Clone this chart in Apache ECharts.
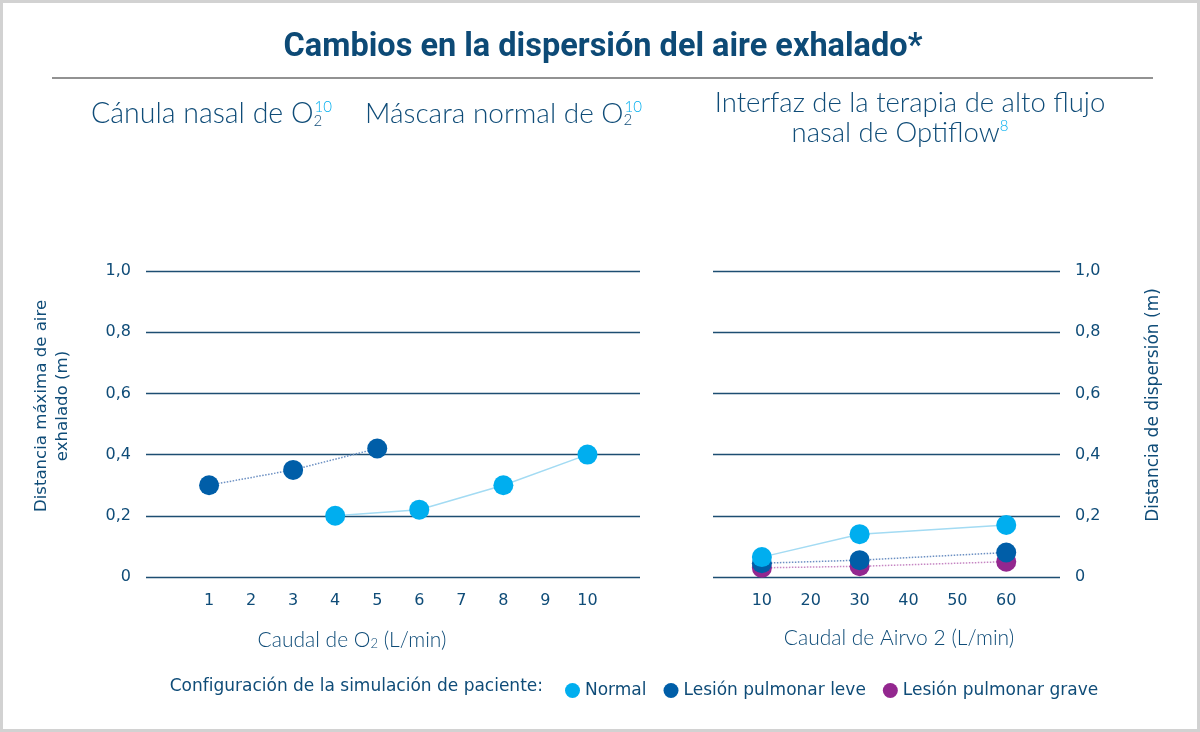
<!DOCTYPE html>
<html lang="es">
<head>
  <meta charset="UTF-8">
  <script src="https://cdn.jsdelivr.net/npm/echarts@6.0.0/dist/echarts.min.js"></script>
  <style>
    body { margin: 0; background: #fff; }
  </style>
</head>
<body>
  <div id="main" style="width: 1200px;height:732px;"></div>
  <script type="text/javascript">
    // colores
    let cNormal = '#00aeef';
    let cLeve = '#005ea8';
    let cGrave = '#93278f';
    let cText = '#0f4c78';
    let cGrid = '#1d4e72';

    // panel izquierdo: cánula nasal / máscara (caudal de O2, L/min)
    let xLeftTicks = [1, 2, 3, 4, 5, 6, 7, 8, 9, 10];
    let leveLeftX = [1, 3, 5];
    let leveLeftY = [0.30, 0.35, 0.42];
    let normalLeftX = [4, 6, 8, 10];
    let normalLeftY = [0.20, 0.22, 0.30, 0.40];

    // panel derecho: Optiflow (caudal de Airvo 2, L/min)
    let xRightTicks = [10, 20, 30, 40, 50, 60];
    let flowRight = [10, 30, 60];
    let normalRight = [0.065, 0.14, 0.17];
    let leveRight = [0.045, 0.055, 0.08];
    let graveRight = [0.03, 0.035, 0.05];

    let legendNames = ['Normal', 'Lesión pulmonar leve', 'Lesión pulmonar grave'];

    function pairs(xs, ys) {
      return xs.map((x, i) => [x, ys[i]]);
    }
    function fmtY(v) {
      return v === 0 ? '0' : v.toFixed(1).replace('.', ',');
    }

    let font = '"DejaVu Sans"';   // textos pequeños (anchos como en el original)
    let light = 'Lato';           // subtítulos y nombres de ejes

    let yAxisBase = {
      type: 'value', min: 0, max: 1, interval: 0.2,
      axisLine: { show: false }, axisTick: { show: false },
      splitLine: { show: true, lineStyle: { color: cGrid, width: 1.3 } },
      axisLabel: { formatter: fmtY, color: cText, fontSize: 16, fontFamily: font, margin: 15 }
    };

    let symbolSize = 20;

    var myChart = echarts.init(document.getElementById('main'), null, { renderer: 'canvas' });
    myChart.setOption({
      animation: false,
      textStyle: { fontFamily: font },
      grid: [
        { left: 146, right: 560, top: 271, bottom: 155 },
        { left: 713, right: 140, top: 271, bottom: 155 }
      ],
      xAxis: [
        {
          gridIndex: 0, type: 'value', min: -0.5, max: 11.25,
          axisLine: { show: false }, axisTick: { show: false }, splitLine: { show: false },
          axisLabel: { customValues: xLeftTicks, color: cText, fontSize: 16, fontFamily: font, margin: 16 }
        },
        {
          gridIndex: 1, type: 'value', min: 0, max: 71,
          axisLine: { show: false }, axisTick: { show: false }, splitLine: { show: false },
          axisLabel: { customValues: xRightTicks, color: cText, fontSize: 16, fontFamily: font, margin: 16 }
        }
      ],
      yAxis: [
        Object.assign({ gridIndex: 0, position: 'left' }, yAxisBase),
        Object.assign({ gridIndex: 1, position: 'right' }, yAxisBase)
      ],
      legend: {
        data: legendNames,
        left: 560, top: 677,
        icon: 'circle', itemWidth: 15, itemHeight: 15, itemGap: 17,
        textStyle: { color: cText, fontSize: 17, fontFamily: font }
      },
      series: [
        {
          name: 'Lesión pulmonar leve', type: 'line', xAxisIndex: 0, yAxisIndex: 0,
          data: pairs(leveLeftX, leveLeftY), symbol: 'circle', symbolSize: symbolSize,
          itemStyle: { color: cLeve },
          lineStyle: { color: '#6b8fc2', width: 1.5, type: 'dotted' }
        },
        {
          name: 'Normal', type: 'line', xAxisIndex: 0, yAxisIndex: 0,
          data: pairs(normalLeftX, normalLeftY), symbol: 'circle', symbolSize: symbolSize,
          itemStyle: { color: cNormal },
          lineStyle: { color: '#a3dbf3', width: 1.5 }
        },
        {
          name: 'Lesión pulmonar grave', type: 'line', xAxisIndex: 1, yAxisIndex: 1,
          data: pairs(flowRight, graveRight), symbol: 'circle', symbolSize: symbolSize,
          itemStyle: { color: cGrave },
          lineStyle: { color: '#c585c2', width: 1.5, type: 'dotted' }
        },
        {
          name: 'Lesión pulmonar leve', type: 'line', xAxisIndex: 1, yAxisIndex: 1,
          data: pairs(flowRight, leveRight), symbol: 'circle', symbolSize: symbolSize,
          itemStyle: { color: cLeve },
          lineStyle: { color: '#6b8fc2', width: 1.5, type: 'dotted' }
        },
        {
          name: 'Normal', type: 'line', xAxisIndex: 1, yAxisIndex: 1,
          data: pairs(flowRight, normalRight), symbol: 'circle', symbolSize: symbolSize,
          itemStyle: { color: cNormal },
          lineStyle: { color: '#a3dbf3', width: 1.5 }
        }
      ],
      graphic: [
        // marco gris
        { type: 'rect', shape: { x: 1.5, y: 1.5, width: 1197, height: 729 }, style: { fill: 'none', stroke: '#d2d2d2', lineWidth: 3 }, silent: true },
        // título
        {
          type: 'text', x: 603, y: 48,
          style: { text: 'Cambios en la dispersión del aire exhalado*', fill: '#0d4a76', font: 'bold 32.5px Roboto', align: 'center', verticalAlign: 'middle' }
        },
        { type: 'line', shape: { x1: 52, y1: 78, x2: 1153, y2: 78 }, style: { stroke: '#6e6e6e', lineWidth: 1.5 } },
        // subtítulos
        {
          type: 'text', x: 91, y: 114,
          style: {
            text: 'Cánula nasal de O{sub|2}{sup|10}', fill: cText, font: '300 28.5px Lato', verticalAlign: 'middle',
            rich: {
              sub: { fontSize: 15, fontFamily: light, fontWeight: 300, fill: cText, lineHeight: 12, verticalAlign: 'bottom', width: 1 },
              sup: { fontSize: 15, fontFamily: light, fontWeight: 300, fill: cNormal, lineHeight: 14, verticalAlign: 'top' }
            }
          }
        },
        {
          type: 'text', x: 365, y: 114,
          style: {
            text: 'Máscara normal de O{sub|2}{sup|10}', fill: cText, font: '300 28px Lato', verticalAlign: 'middle',
            rich: {
              sub: { fontSize: 15, fontFamily: light, fontWeight: 300, fill: cText, lineHeight: 12, verticalAlign: 'bottom', width: 1 },
              sup: { fontSize: 15, fontFamily: light, fontWeight: 300, fill: cNormal, lineHeight: 14, verticalAlign: 'top' }
            }
          }
        },
        {
          type: 'text', x: 910, y: 103,
          style: { text: 'Interfaz de la terapia de alto flujo', fill: cText, font: '300 27.5px Lato', align: 'center', verticalAlign: 'middle' }
        },
        {
          type: 'text', x: 900, y: 133,
          style: {
            text: 'nasal de Optiflow{sup|8}', fill: cText, font: '300 27.5px Lato', align: 'center', verticalAlign: 'middle',
            rich: { sup: { fontSize: 15, fontFamily: light, fontWeight: 300, fill: cNormal, lineHeight: 14, verticalAlign: 'top' } }
          }
        },
        // nombres de ejes
        {
          type: 'text', x: 352, y: 640,
          style: {
            text: 'Caudal de O{sub|2} (L/min)', fill: cText, font: '300 21px Lato', align: 'center', verticalAlign: 'middle',
            rich: { sub: { fontSize: 13, fontFamily: light, fontWeight: 300, fill: cText, lineHeight: 10, verticalAlign: 'bottom' } }
          }
        },
        {
          type: 'text', x: 899, y: 638,
          style: { text: 'Caudal de Airvo 2 (L/min)', fill: cText, font: '300 21px Lato', align: 'center', verticalAlign: 'middle' }
        },
        {
          type: 'text', x: 52, y: 406, rotation: Math.PI / 2,
          style: { text: 'Distancia máxima de aire\nexhalado (m)', fill: cText, font: '16.6px "DejaVu Sans"', align: 'center', verticalAlign: 'middle', lineHeight: 21 }
        },
        {
          type: 'text', x: 1154, y: 405, rotation: Math.PI / 2,
          style: { text: 'Distancia de dispersión (m)', fill: cText, font: '17px "DejaVu Sans"', align: 'center', verticalAlign: 'middle' }
        },
        // etiqueta de la leyenda
        {
          type: 'text', x: 543, y: 687,
          style: { text: 'Configuración de la simulación de paciente:', fill: cText, font: '17px "DejaVu Sans"', align: 'right', verticalAlign: 'middle' }
        }
      ]
    });
  </script>
</body>
</html>
